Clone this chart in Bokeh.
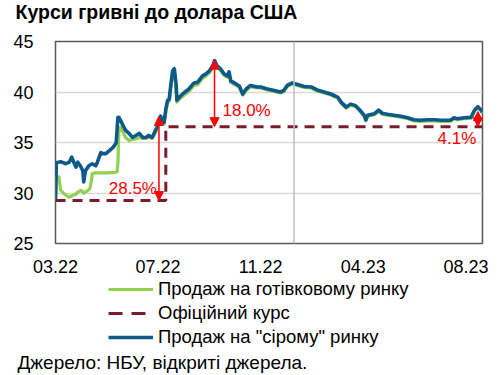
from bokeh.plotting import figure
from bokeh.layouts import column
from bokeh.models import (Range1d, FixedTicker, Label, Span, Arrow, NormalHead,
                          Legend, LegendItem)
from bokeh.embed import file_html
from bokeh.resources import INLINE

FONT = "Liberation Sans"

# ---- data ----
tick_days = [0, 120, 240, 360, 480]
tick_labels = ["03.22", "07.22", "11.22", "04.23", "08.23"]
year_break_day = 279

grey_days = [0, 1, 6, 12, 16, 19, 22, 24, 26, 29, 32, 33, 35, 39, 43, 47, 49, 53, 55, 59,
             63, 67, 69, 71, 73, 74, 76, 78, 82, 86, 90, 94, 98, 102, 106, 109, 113, 117, 119, 121,
             123, 125, 127, 129, 131, 133, 135, 137, 139, 141, 142, 145, 150, 156, 162, 166, 172, 176, 180, 184,
             186, 189, 193, 197, 201, 203, 205, 211, 215, 219, 223, 228, 236, 240, 248, 256, 263, 267, 271, 277,
             283, 291, 299, 306, 314, 322, 330, 334, 340, 345, 351, 355, 361, 363, 365, 373, 378, 382, 388, 396,
             404, 412, 419, 427, 435, 443, 451, 462, 466, 470, 478, 486, 490, 494, 498, 499]
grey_rate = [29.3, 33.0, 33.1, 32.9, 33.05, 33.55, 32.9, 32.56, 33.05, 32.7, 32.2, 31.1, 32.2, 32.7, 32.9, 32.7, 33.05, 34.0, 33.9, 33.9,
             34.2, 34.5, 34.7, 35.0, 37.5, 37.5, 37.2, 36.85, 36.2, 35.9, 35.5, 35.7, 35.9, 35.5, 35.5, 35.7, 35.5, 36.2, 36.6, 37.2,
             37.6, 37.2, 37.0, 38.3, 39.15, 39.3, 40.8, 42.1, 42.3, 40.8, 39.2, 39.5, 39.9, 40.3, 40.9, 40.95, 41.6, 41.8, 42.1, 42.6,
             43.1, 42.6, 42.3, 41.8, 41.6, 42.0, 41.1, 40.8, 40.6, 39.8, 40.3, 40.65, 40.5, 40.5, 40.3, 40.15, 40.0, 40.15, 40.65, 40.9,
             40.75, 40.55, 40.5, 40.2, 40.0, 39.8, 39.5, 39.0, 38.5, 38.8, 38.65, 38.3, 37.7, 37.25, 37.7, 37.85, 38.2, 37.9, 37.8, 37.7,
             37.6, 37.45, 37.25, 37.2, 37.25, 37.25, 37.2, 37.2, 37.45, 37.35, 37.45, 37.5, 38.2, 38.55, 38.2, 38.0]

cash_days = [0, 1, 4, 6, 9, 12, 16, 20, 24, 27, 30, 33, 36, 40, 42, 43, 46, 60, 70, 72,
             73, 74, 76, 78, 82, 86, 90, 94, 98, 102, 106, 109, 113, 117, 119, 121, 123, 125, 127, 129,
             131, 133, 135, 137, 139, 141, 142, 145, 150, 156, 162, 166, 172, 176, 180, 184, 186, 189, 193, 197,
             201, 203, 205, 211, 215, 219, 223, 228, 236, 240, 248, 256, 263, 267, 271, 277, 283, 291, 299, 306,
             314, 322, 330, 334, 340, 345, 351, 355, 361, 363, 365, 373, 378, 382, 388, 396, 404, 412, 419, 427,
             435, 443, 451, 462, 466, 470, 478, 486, 490, 494, 498, 499]
cash_rate = [29.3, 31.5, 31.6, 30.3, 30.0, 29.8, 29.6, 29.75, 29.9, 30.15, 30.25, 30.0, 30.15, 30.4, 31.2, 31.9, 32.0, 32.0, 32.05, 32.1,
             33.0, 36.0, 36.5, 36.2, 35.5, 35.2, 35.3, 35.35, 35.5, 35.4, 35.4, 35.55, 35.4, 36.0, 36.4, 37.0, 37.4, 37.0, 36.85, 38.0,
             38.9, 39.1, 40.5, 41.7, 42.0, 40.5, 39.0, 39.3, 39.65, 40.05, 40.65, 40.7, 41.35, 41.6, 41.9, 42.4, 42.9, 42.45, 42.15, 41.65,
             41.45, 41.85, 40.95, 40.65, 40.45, 39.7, 40.15, 40.5, 40.4, 40.4, 40.2, 40.05, 39.9, 40.05, 40.55, 40.8, 40.65, 40.45, 40.4, 40.1,
             39.9, 39.7, 39.4, 38.9, 38.4, 38.7, 38.55, 38.2, 37.6, 37.15, 37.6, 37.75, 38.1, 37.8, 37.7, 37.6, 37.5, 37.35, 37.15, 37.1,
             37.15, 37.15, 37.1, 37.1, 37.35, 37.25, 37.35, 37.4, 38.1, 38.45, 38.1, 37.9]

official_days = [0, 129, 129, 499]
official_rate = [29.25, 29.25, 36.57, 36.57]

gap_days = [121, 186, 494]
gap_pct = [28.5, 18.0, 4.1]

series_names = ["Продаж на готівковому ринку", "Офіційний курс", "Продаж на \"сірому\" ринку"]
title_text = "Курси гривні до долара США"
source_text = "Джерело: НБУ, відкриті джерела."

C_CASH, C_OFF, C_GREY = "#92d050", "#7b1c2c", "#0d5a8a"


def blank(height):
    f = figure(width=500, height=height, output_backend="svg", toolbar_location=None,
               x_axis_location=None, y_axis_location=None,
               x_range=Range1d(-20, -10), y_range=Range1d(0, 1),
               min_border_left=0, min_border_right=0, min_border_top=0, min_border_bottom=0)
    f.grid.visible = False
    f.outline_line_color = None
    f.background_fill_color = "white"
    f.border_fill_color = "white"
    if "frame_align" in f.properties():
        f.frame_align = False
    return f


# ---- title strip ----
t = blank(30)
t.add_layout(Label(x=15, y=19, x_units="screen", y_units="screen", text=title_text,
                   text_font=FONT, text_font_size="19.5px", text_font_style="bold",
                   text_color="#000000", text_baseline="alphabetic"))

# ---- main figure ----
p = figure(width=500, height=248, output_backend="svg", toolbar_location=None,
           x_range=Range1d(0, 499.4), y_range=Range1d(25, 45),
           min_border_left=55, min_border_right=18, min_border_top=11, min_border_bottom=35)
if "frame_align" in p.properties():
    p.frame_align = False
p.background_fill_color = "white"
p.border_fill_color = "white"
p.outline_line_color = "#595959"
p.outline_line_width = 1.5

p.xaxis.ticker = FixedTicker(ticks=tick_days)
p.xaxis.major_label_overrides = {d: t_ for d, t_ in zip(tick_days, tick_labels)}
p.yaxis.ticker = FixedTicker(ticks=[25, 30, 35, 40, 45])
for ax in (p.xaxis[0], p.yaxis[0]):
    ax.axis_line_color = None
    ax.major_tick_line_color = None
    ax.minor_tick_line_color = None
    ax.major_label_text_font = FONT
    ax.major_label_text_font_size = "18px"
    ax.major_label_text_color = "#000000"
p.yaxis.major_label_standoff = 16
p.xaxis.major_label_standoff = 10
p.xgrid.grid_line_color = None
p.ygrid.ticker = FixedTicker(ticks=[30, 35, 40])
p.ygrid.grid_line_color = "#d9d9d9"
p.ygrid.grid_line_width = 1.5

p.add_layout(Span(location=year_break_day, dimension="height", line_color="#bfbfbf", line_width=1.5))

p.line(cash_days, cash_rate, line_color=C_CASH, line_width=3.2, line_join="round")
p.line(grey_days, grey_rate, line_color=C_GREY, line_width=3.6, line_join="round")
p.line(official_days, official_rate, line_color=C_OFF, line_width=3, line_dash="10 7")

# gap arrows
for d, pct in zip(gap_days, gap_pct):
    base = official_rate[0]
    for od, orate in zip(official_days, official_rate):
        if od <= d:
            base = orate
    top = base * (1 + pct / 100.0)
    p.add_layout(Arrow(x_start=d, y_start=base, x_end=d, y_end=top, line_color="#ff0000", line_width=1.5,
                       start=NormalHead(size=9, fill_color="#ff0000", line_color="#ff0000"),
                       end=NormalHead(size=9, fill_color="#ff0000", line_color="#ff0000")))

txt = dict(text_font=FONT, text_font_size="17px", text_color="#ff0000", text_baseline="middle")
p.add_layout(Label(x=gap_days[0], y=30.45, x_offset=-2, text=f"{gap_pct[0]:.1f}%", text_align="right", **txt))
p.add_layout(Label(x=gap_days[1], y=38.2, x_offset=8, text=f"{gap_pct[1]:.1f}%", text_align="left", **txt))
p.add_layout(Label(x=gap_days[2], y=35.4, x_offset=-21, text=f"{gap_pct[2]:.1f}%", text_align="center", **txt))

# ---- legend + source strip ----
q = blank(97)
l_cash = q.line(cash_days, cash_rate, line_color=C_CASH, line_width=3.2)
l_off = q.line(official_days, official_rate, line_color=C_OFF, line_width=3, line_dash="14 9")
l_grey = q.line(grey_days, grey_rate, line_color=C_GREY, line_width=3.6)
legend = Legend(items=[LegendItem(label=series_names[0], renderers=[l_cash]),
                       LegendItem(label=series_names[1], renderers=[l_off]),
                       LegendItem(label=series_names[2], renderers=[l_grey])],
                location=(108, 27), orientation="vertical",
                glyph_width=45, glyph_height=20, label_height=20, spacing=2,
                label_standoff=5, padding=0, margin=0,
                border_line_color=None, background_fill_alpha=0,
                label_text_font=FONT, label_text_font_size="18.5px", label_text_color="#000000")
q.add_layout(legend, "center")
q.add_layout(Label(x=17, y=13, x_units="screen", y_units="screen", text=source_text,
                   text_font=FONT, text_font_size="19px", text_color="#000000",
                   text_baseline="alphabetic"))

layout = column(t, p, q, spacing=0)
open("out.html", "w").write(file_html(layout, INLINE))
